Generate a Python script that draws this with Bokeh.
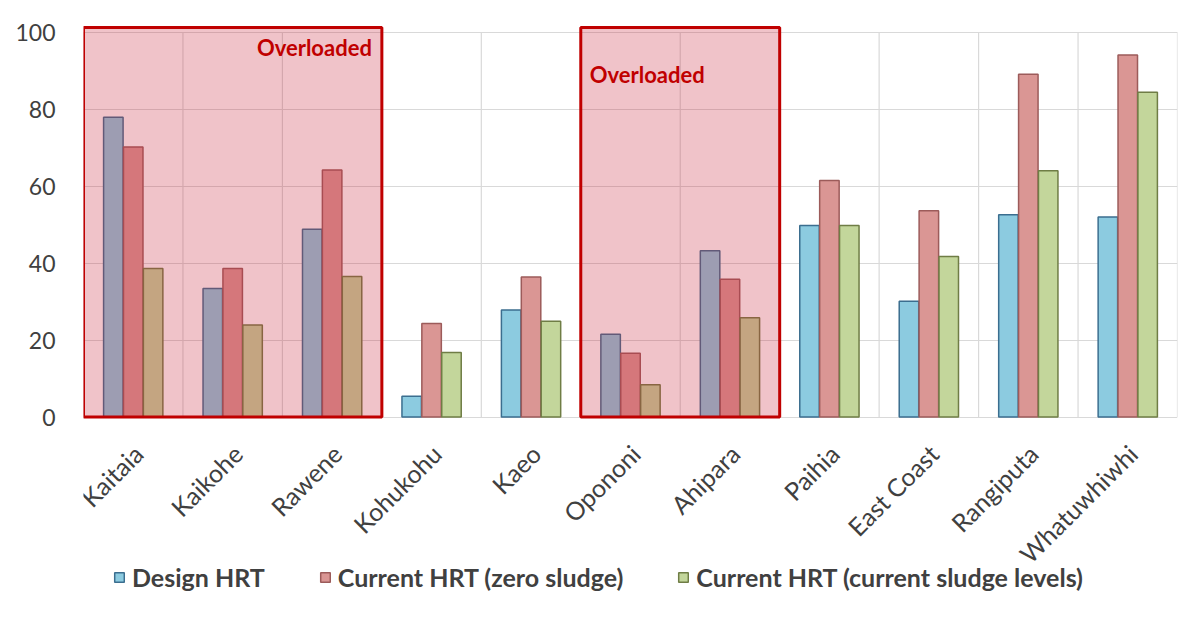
from bokeh.plotting import figure
from bokeh.models import (ColumnDataSource, Range1d, FixedTicker, Legend, LegendItem, Label)
from bokeh.transform import dodge
from bokeh.core.properties import value
from bokeh.embed import file_html
from bokeh.resources import INLINE

# ---------------- data ----------------
categories = ["Kaitaia", "Kaikohe", "Rawene", "Kohukohu", "Kaeo", "Opononi",
              "Ahipara", "Paihia", "East Coast", "Rangiputa", "Whatuwhiwhi"]
design_hrt = [77.9, 33.4, 48.8, 5.4, 27.8, 21.5, 43.2, 49.8, 30.1, 52.6, 52.0]
zero_sludge = [70.2, 38.6, 64.2, 24.3, 36.4, 16.6, 35.8, 61.5, 53.6, 89.1, 94.1]
current_sludge = [38.6, 23.9, 36.5, 16.8, 24.9, 8.4, 25.8, 49.8, 41.7, 64.0, 84.4]
series_names = ["Design HRT", "Current HRT (zero sludge)", "Current HRT (current sludge levels)"]
y_ticks = [0, 20, 40, 60, 80, 100]
overloaded_groups = [("Kaitaia", "Rawene"), ("Opononi", "Ahipara")]
overloaded_label = "Overloaded"

# ---------------- style ----------------
FONT = "Lato"
TXT = "#404040"
GRID = "#D9D9D9"
fills = ["#8CCBE0", "#DA9694", "#C3D69B"]
lines = ["#3B6E8F", "#9C5B5A", "#6F7D45"]

n = len(categories)
centers = [i + 0.5 for i in range(n)]
src = ColumnDataSource(dict(x=centers, design=design_hrt, zero=zero_sludge, cur=current_sludge,
                            name=categories, base=[0] * n))

# the frame is extended below zero so that the category labels and legend live inside it
p = figure(frame_width=1094, frame_height=592, x_range=Range1d(0, n), y_range=Range1d(-51.8, 102),
           output_backend="svg", toolbar_location=None,
           min_border_left=83, min_border_right=2, min_border_top=24, min_border_bottom=0)
p.outline_line_color = None
p.background_fill_color = "white"
p.xaxis.visible = False
p.xgrid.visible = False

# horizontal grid
p.ygrid.ticker = FixedTicker(ticks=y_ticks)
p.ygrid.grid_line_color = GRID
p.ygrid.grid_line_width = 1.2

# vertical grid at category boundaries (from 0 to 100 only)
bounds = list(range(n + 1))
p.segment(x0=bounds, y0=[y_ticks[0]] * len(bounds), x1=bounds, y1=[y_ticks[-1]] * len(bounds),
          line_color=GRID, line_width=1.2)

# y axis
p.yaxis.ticker = FixedTicker(ticks=y_ticks)
p.yaxis.axis_line_color = None
p.yaxis.major_tick_line_color = None
p.yaxis.minor_tick_line_color = None
p.yaxis.major_label_text_font = FONT
p.yaxis.major_label_text_font_size = "23px"
p.yaxis.major_label_text_color = TXT
p.yaxis.major_label_standoff = 22

# bars
bw = 0.196
cols = ["design", "zero", "cur"]
offs = [-0.2, 0.0, 0.2]
renderers = []
for col, off, fc, lc in zip(cols, offs, fills, lines):
    r = p.vbar(x=dodge("x", off, range=p.x_range), top=col, width=bw, bottom=0, source=src,
               fill_color=fc, line_color=lc, line_width=1.5)
    renderers.append(r)

# overloaded boxes
for k, (a, b) in enumerate(overloaded_groups):
    left = categories.index(a)
    right = categories.index(b) + 1
    p.quad(left=left, right=right, bottom=0, top=101.2, fill_color="#C8283C", fill_alpha=0.28,
           line_color="#C00000", line_width=3)
    if k == 0:
        lab = Label(x=right, y=96, x_offset=-10, text=overloaded_label, text_align="right",
                    text_baseline="middle")
    else:
        lab = Label(x=left, y=89, x_offset=9, text=overloaded_label, text_align="left",
                    text_baseline="middle")
    lab.text_font = FONT
    lab.text_font_size = "22px"
    lab.text_font_style = "bold"
    lab.text_color = "#C00000"
    p.add_layout(lab)

# category labels (rotated 45 degrees, ending just under each group)
p.text(x="x", y="base", text="name", source=src, angle=0.785, x_offset=5, y_offset=32,
       text_align="right", text_baseline="middle", text_font=value(FONT),
       text_font_size="25px", text_color=TXT)

legend = Legend(items=[LegendItem(label=nm, renderers=[r]) for nm, r in zip(series_names, renderers)],
                orientation="horizontal", location=(30, 24))
legend.label_text_font = FONT
legend.label_text_font_size = "25px"
legend.label_text_font_style = "bold"
legend.label_text_color = TXT
legend.glyph_width = 12
legend.glyph_height = 12
legend.label_standoff = 7
legend.spacing = 54
legend.border_line_color = None
legend.background_fill_alpha = 0
legend.margin = 0
legend.padding = 0
p.add_layout(legend)

open("out.html", "w").write(file_html(p, INLINE))
